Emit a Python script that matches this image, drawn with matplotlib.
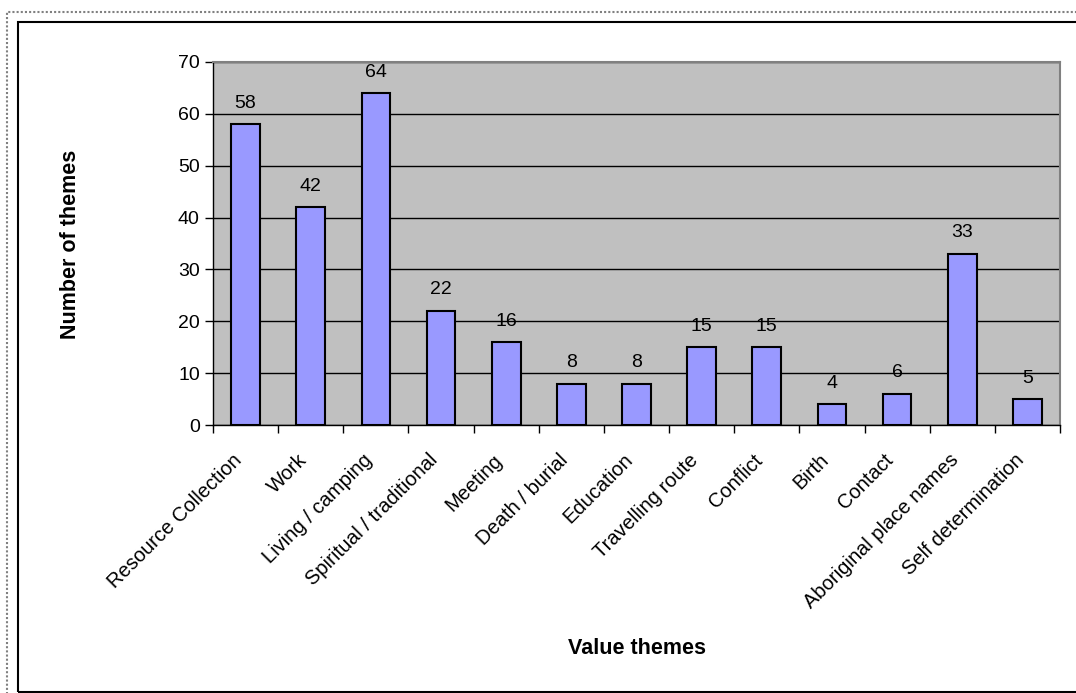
import matplotlib.pyplot as plt
import matplotlib.patches as mpatches
import numpy as np

plt.rcParams['font.family'] = ['Liberation Sans', 'DejaVu Sans']

categories = ['Resource Collection', 'Work', 'Living / camping',
              'Spiritual / traditional', 'Meeting', 'Death / burial',
              'Education', 'Travelling route', 'Conflict', 'Birth',
              'Contact', 'Aboriginal place names', 'Self determination']
counts = [58, 42, 64, 22, 16, 8, 8, 15, 15, 4, 6, 33, 5]

BAR_COLOR = '#9999FF'
PLOT_BG = '#C0C0C0'
FONT_SIZE = 14

fig = plt.figure(figsize=(10.76, 6.93), dpi=100)
ax = fig.add_axes([213 / 1076, 1 - 425 / 693, (1060 - 213) / 1076, (425 - 62) / 693])

# Chart borders (outer dotted frame and inner black frame)
fig.patches.append(mpatches.Rectangle(
    (7 / 1076, -0.1), 1.2, 1 - 12 / 693 + 0.1, transform=fig.transFigure,
    fill=False, edgecolor='#808080', linewidth=1.5, linestyle=(0, (1, 1))))
fig.patches.append(mpatches.Rectangle(
    (18 / 1076, 1 / 693), 1.2, 1 - 22 / 693 - 1 / 693, transform=fig.transFigure,
    fill=False, edgecolor='black', linewidth=1.5))

x = np.arange(len(categories))
ax.set_facecolor(PLOT_BG)
ax.bar(x, counts, width=0.44, color=BAR_COLOR, edgecolor='black',
       linewidth=1.5, zorder=3)

for xi, v in zip(x, counts):
    ax.annotate(str(v), (xi, v), xytext=(0, 9), textcoords='offset points',
                ha='center', va='bottom', fontsize=FONT_SIZE)

ax.set_xlim(-0.5, len(categories) - 0.5)
ax.set_ylim(0, 70)
ax.set_yticks(np.arange(0, 71, 10))
ax.yaxis.grid(True, color='black', linewidth=1)
ax.set_axisbelow(True)

# va='bottom' with anchor rotation pulls the labels up-left of the tick
ax.set_xticks(x)
ax.set_xticklabels(categories, rotation=45, ha='right', va='bottom',
                   rotation_mode='anchor', fontsize=FONT_SIZE + 0.5)
ax.set_xticks(np.arange(len(categories) + 1) - 0.5, minor=True)
ax.tick_params(axis='x', which='major', length=0, pad=28)
ax.tick_params(axis='x', which='minor', length=6, width=1, direction='out')
ax.tick_params(axis='y', length=6, width=1, direction='out',
               labelsize=FONT_SIZE)

for side in ['top', 'right']:
    ax.spines[side].set_color('#808080')
    ax.spines[side].set_linewidth(1.5)
for side in ['left', 'bottom']:
    ax.spines[side].set_color('black')
    ax.spines[side].set_linewidth(1)

fig.text(71 / 1076, 1 - 244 / 693, 'Number of themes', rotation=90,
         ha='center', va='center', fontsize=15.5, fontweight='bold')
fig.text(637 / 1076, 1 - 649 / 693, 'Value themes', ha='center', va='center',
         fontsize=15.5, fontweight='bold')

plt.savefig('out.png', dpi=100)
